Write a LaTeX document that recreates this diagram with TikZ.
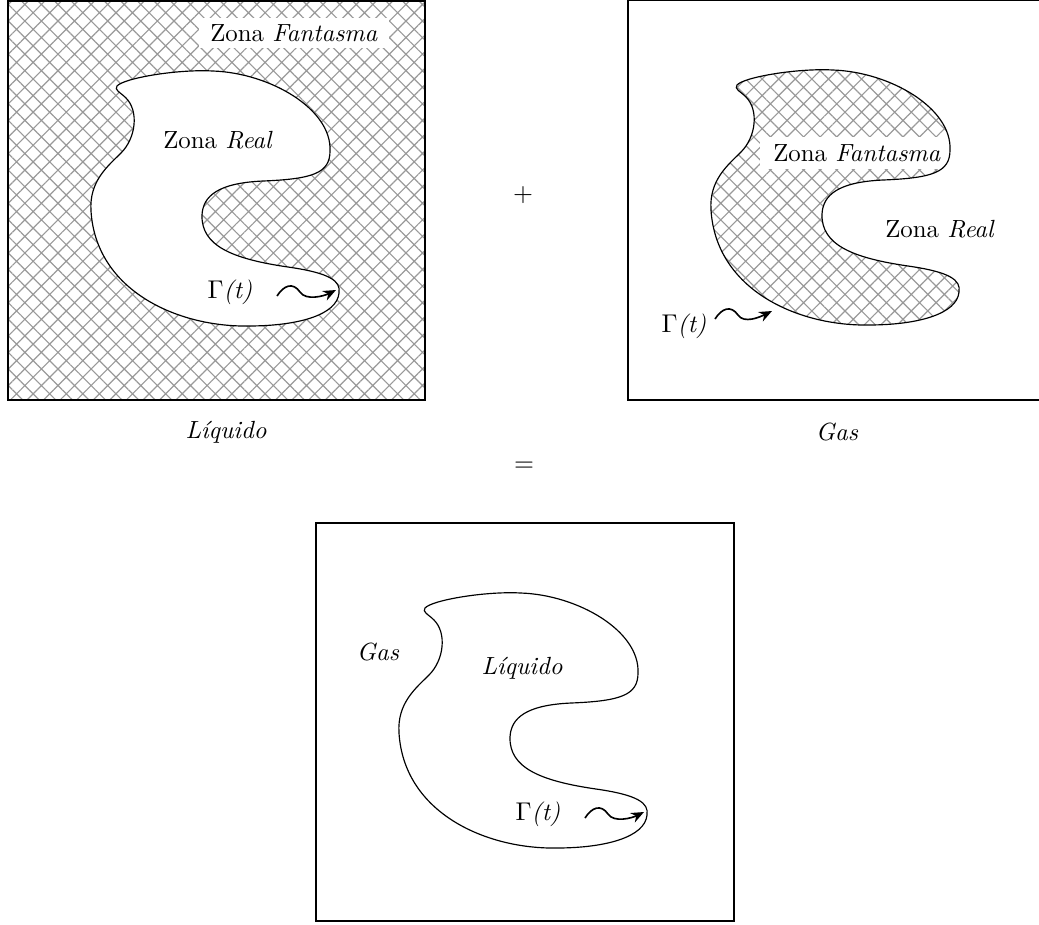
\documentclass[tikz,border=0pt]{standalone}
\usepackage{amsmath}
\usepackage{tikz}
\usetikzlibrary{calc,positioning,patterns.meta,arrows.meta}

\newcommand{\interfaz}[1]{%
  \path[#1] (109,85) .. controls (116,77) and (170,68) .. (205,70)
    .. controls (262,72) and (324,108) .. (322,150)
    .. controls (322,172) and (305,178) .. (255,180)
    .. controls (210,182) and (195,195) .. (194,214)
    .. controls (193,245) and (225,258) .. (280,266)
    .. controls (322,272) and (333,280) .. (331,292)
    .. controls (329,314) and (290,325) .. (240,325)
    .. controls (170,326) and (88,290) .. (83,210)
    .. controls (81,180) and (100,165) .. (113,152)
    .. controls (128,137) and (131,110) .. (118,97)
    .. controls (112,91) and (106,89) .. cycle;}

\newcommand{\onda}[2]{%
  \draw[onda] (#1) .. controls +(7,-11) and +(-7,-10) .. ++(23,-4)
    .. controls +(6,9) and +(-12,6) .. (#2);}

\begin{document}
\begin{tikzpicture}[
                x=0.015cm, y=-0.015cm,
                caja/.style={draw=black,line width=0.5pt},
                rayado/.style={pattern={Hatch[angle=45,distance=5pt,line width=0.5pt]},pattern color=gray!80},
                borde/.style={draw=black,line width=0.5pt},
                onda/.style={line width=0.7pt,-{Stealth[length=5.5pt,width=4.5pt]}},
                etiqueta/.style={inner sep=2pt,font=\fontsize{10.6}{13}\selectfont}
            ]
                \useasboundingbox (0,0) rectangle (1039,924);

                % liquido
                \begin{scope}[shift={(8,1)}]
                    \fill[rayado] (0,0) rectangle (417,399);
                    \interfaz{fill=white,borde}
                    \draw[caja] (0,0) rectangle (417,399);
                    \node[etiqueta,fill=white,minimum width=190*0.015cm,minimum height=30*0.015cm] (fantasmaL) at (286,32) {Zona \textit{Fantasma}};
                    \node[etiqueta] (realL) at (210,139) {Zona \textit{Real}};
                    \node[etiqueta] (gammaL) at (222,291) {$\Gamma$\textit{(t)}};
                    \coordinate (iniL) at (269,295);
                    \coordinate (finL) at (328,289);
                    \onda{iniL}{finL}
                \end{scope}

                % gas
                \begin{scope}[shift={(628,0)}]
                    \interfaz{rayado}
                    \node[etiqueta,fill=white,minimum width=195*0.015cm,minimum height=32*0.015cm] (fantasmaG) at (229,153) {Zona \textit{Fantasma}};
                    \interfaz{borde}
                    \draw[caja] (0,0) rectangle (417,400);
                    \node[etiqueta] (realG) at (312,229) {Zona \textit{Real}};
                    \node[etiqueta] (gammaG) at (56,326) {$\Gamma$\textit{(t)}};
                    \coordinate (iniG) at (87,319);
                    \coordinate (finG) at (144,311);
                    \onda{iniG}{finG}
                \end{scope}

                % suma
                \begin{scope}[shift={(316,523)}]
                    \interfaz{borde}
                    \draw[caja] (0,0) rectangle (418,398);
                    \node[etiqueta] (gasS) at (62,129) {\textit{Gas}};
                    \node[etiqueta] (liquidoS) at (206,145) {\textit{Líquido}};
                    \node[etiqueta] (gammaS) at (222,291) {$\Gamma$\textit{(t)}};
                    \coordinate (iniS) at (269,295);
                    \coordinate (finS) at (328,289);
                    \onda{iniS}{finS}
                \end{scope}

                \node[etiqueta] (liquido) at (226,432) {\textit{Líquido}};
                \node[etiqueta] (gas)     at (837,432) {\textit{Gas}};
                \node[etiqueta] (mas)     at (523,195) {$+$};
                \node[etiqueta] (igual)   at (524,467) {$=$};
            \end{tikzpicture}
\end{document}
